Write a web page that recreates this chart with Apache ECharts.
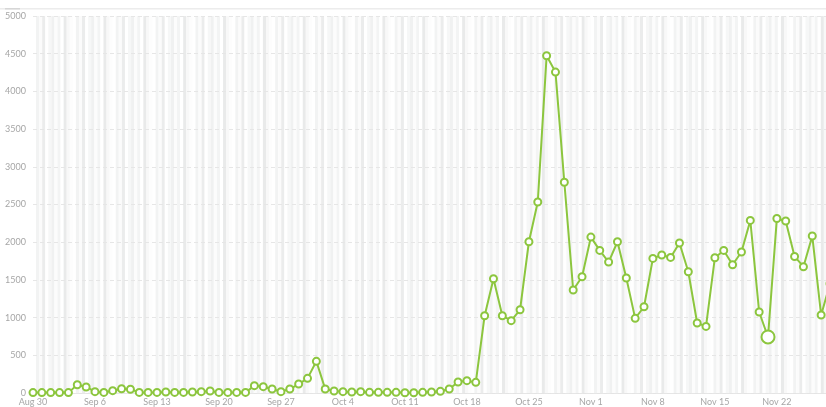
<!DOCTYPE html>
<html>
<head>
<meta charset="utf-8">
<script src="https://cdn.jsdelivr.net/npm/echarts@6/dist/echarts.min.js"></script>
<style>
  html, body { margin: 0; padding: 0; background: #fff; }
  #chart { width: 826px; height: 407px; }
</style>
</head>
<body>
<div id="chart"></div>
<script>
const days = [
  "Aug 30", "Aug 31",
  "Sep 1", "Sep 2", "Sep 3", "Sep 4", "Sep 5", "Sep 6", "Sep 7", "Sep 8", "Sep 9", "Sep 10",
  "Sep 11", "Sep 12", "Sep 13", "Sep 14", "Sep 15", "Sep 16", "Sep 17", "Sep 18", "Sep 19", "Sep 20",
  "Sep 21", "Sep 22", "Sep 23", "Sep 24", "Sep 25", "Sep 26", "Sep 27", "Sep 28", "Sep 29", "Sep 30",
  "Oct 1", "Oct 2", "Oct 3", "Oct 4", "Oct 5", "Oct 6", "Oct 7", "Oct 8", "Oct 9", "Oct 10",
  "Oct 11", "Oct 12", "Oct 13", "Oct 14", "Oct 15", "Oct 16", "Oct 17", "Oct 18", "Oct 19", "Oct 20",
  "Oct 21", "Oct 22", "Oct 23", "Oct 24", "Oct 25", "Oct 26", "Oct 27", "Oct 28", "Oct 29", "Oct 30", "Oct 31",
  "Nov 1", "Nov 2", "Nov 3", "Nov 4", "Nov 5", "Nov 6", "Nov 7", "Nov 8", "Nov 9", "Nov 10",
  "Nov 11", "Nov 12", "Nov 13", "Nov 14", "Nov 15", "Nov 16", "Nov 17", "Nov 18", "Nov 19", "Nov 20",
  "Nov 21", "Nov 22", "Nov 23", "Nov 24", "Nov 25", "Nov 26", "Nov 27", "Nov 28"
];

const visits = [
  5, 5, 5, 5, 5, 110, 80, 18, 8, 31,
  57, 49, 8, 8, 8, 13, 8, 8, 13, 18,
  27, 8, 8, 8, 8, 97, 84, 53, 18, 53,
  119, 194, 420, 53, 27, 18, 13, 18, 9, 9,
  9, 9, 4, 4, 9, 13, 22, 53, 146, 164,
  141, 1025, 1516, 1025, 959, 1104, 2006, 2533, 4473, 4256,
  2795, 1366, 1542, 2068, 1891, 1737, 2006, 1525, 990, 1144,
  1785, 1830, 1798, 1989, 1608, 928, 883, 1794, 1891, 1701,
  1870, 2289, 1074, 743, 2315, 2281, 1811, 1675, 2082, 1034,
  1450
];

// the point under the cursor in the screenshot
const hoverIndex = 83;

const yTicks = { min: 0, max: 5000, interval: 500 };

// background stripe shades
const stripeShades = ["#ffffff", "#f2f3f3", "#fbfbfb", "#ebecec", "#ffffff", "#f6f7f7",
  "#f0f1f1", "#fcfcfc", "#f3f4f4", "#ffffff", "#e9eaea", "#f8f8f8", "#fdfdfd"];
const stripeSlots = Array.from({ length: 260 }, (_, i) => i);

const green = "#8cc63e";

const chart = echarts.init(document.getElementById("chart"));
chart.setOption({
  animation: false,
  // the plot runs a few pixels past the right edge, so the last day is cut off
  grid: { left: 33, right: -4, top: 16, bottom: 14, outerBoundsMode: "none" },
  graphic: [
    { type: "rect", shape: { x: 0, y: 8, width: 826, height: 1.5 }, style: { fill: "#ececec" } },
    { type: "rect", shape: { x: 5, y: 8, width: 15, height: 1.5 }, style: { fill: "#d6d6d6" } }
  ],
  xAxis: [
    {
      type: "category",
      data: days,
      boundaryGap: false,
      axisLine: { show: true, lineStyle: { color: "#e4e4e4" } },
      axisTick: { show: false },
      axisLabel: {
        interval: 6,
        color: "#a6a6a6",
        fontSize: 9,
        fontFamily: "Lato",
        margin: 5
      },
      splitLine: { show: false }
    },
    {
      type: "category",
      data: stripeSlots,
      position: "top",
      boundaryGap: true,
      axisLine: { show: false },
      axisTick: { show: false },
      axisLabel: { show: false, interval: 0 },
      splitLine: { show: false },
      splitArea: { show: true, interval: 0, areaStyle: { color: stripeShades } }
    }
  ],
  yAxis: {
    type: "value",
    min: yTicks.min,
    max: yTicks.max,
    interval: yTicks.interval,
    axisLine: { show: false },
    axisTick: { show: false },
    axisLabel: {
      color: "#a6a6a6",
      fontSize: 9,
      fontFamily: "Lato",
      margin: 7,
      formatter: (v) => String(v)
    },
    splitLine: { show: true, lineStyle: { color: "#e6e6e6", type: [4, 3] } },
    z: 3
  },
  series: [
    {
      type: "line",
      xAxisIndex: 0,
      data: visits.map((v, i) => (i === hoverIndex ? { value: v, symbolSize: 13 } : v)),
      symbol: "circle",
      symbolSize: 7,
      showAllSymbol: true,
      lineStyle: { color: green, width: 2 },
      itemStyle: { color: "#fff", borderColor: green, borderWidth: 2 },
      z: 5
    }
  ]
});
</script>
</body>
</html>
